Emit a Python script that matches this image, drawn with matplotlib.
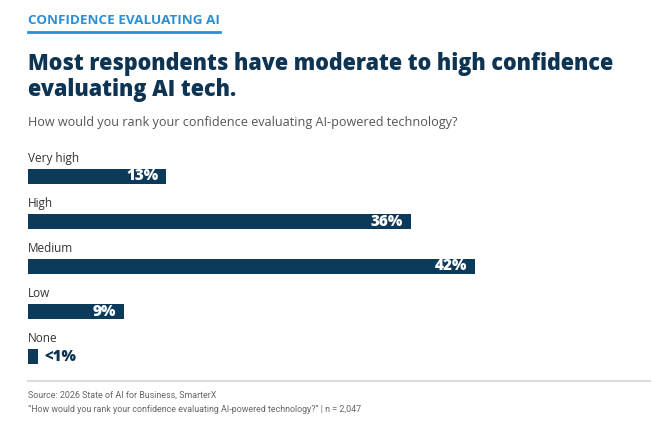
import matplotlib
matplotlib.use("Agg")
import matplotlib.pyplot as plt
from matplotlib.lines import Line2D

categories = ["Very high", "High", "Medium", "Low", "None"]
values = [13, 36, 42, 9, 0.9]
labels = ["13%", "36%", "42%", "9%", "<1%"]

kicker = "CONFIDENCE EVALUATING AI"
title = "Most respondents have moderate to high confidence\nevaluating AI tech."
question = "How would you rank your confidence evaluating AI-powered technology?"
source = "Source: 2026 State of AI for Business, SmarterX"
note = "\u201cHow would you rank your confidence evaluating AI-powered technology?\u201d | n = 2,047"

NAVY = "#0c3a5b"
W, H = 651, 444

plt.rcParams["font.family"] = ["Open Sans", "DejaVu Sans"]

fig = plt.figure(figsize=(W / 100, H / 100), dpi=100)
fig.patch.set_facecolor("white")


def fx(px):
    return px / W


def fy(py):
    return 1 - py / H


# header block
fig.text(fx(28), fy(21), kicker, color="#2a8fd6", fontsize=9.7, fontweight="bold",
         va="center", ha="left")
fig.add_artist(Line2D([fx(28), fx(220)], [fy(32), fy(32)], color="#2a8fd6", lw=2))
fig.text(fx(28), fy(77), title, color="#0d3452", fontsize=15.5, fontweight="heavy",
         va="center", ha="left", linespacing=1.15)
fig.text(fx(28), fy(122), question, color="#555555", fontsize=9.1, va="center", ha="left")

# bars: one data unit on y = 45 px
top, bottom = 140, 380
ax = fig.add_axes([fx(28), fy(bottom), fx(50 * 10.65), (bottom - top) / H])
ypos = list(range(len(categories)))
ax.barh(ypos, values, height=0.333, color=NAVY)
ax.set_xlim(0, 50)
ax.set_ylim((bottom - 176.5) / 45, -(176.5 - top) / 45)
ax.axis("off")

for y, v, cat, lab in zip(ypos, values, categories, labels):
    ax.text(0, y - 0.39, cat, color="#333333", fontsize=8.5, va="center", ha="left")
    if v >= 5:
        ax.annotate(lab, (v, y), xytext=(-6, 0), textcoords="offset points",
                    color="white", fontsize=11, fontweight="heavy",
                    va="center", ha="right")
    else:
        ax.annotate(lab, (v, y), xytext=(5, 0), textcoords="offset points",
                    color="#0d3452", fontsize=11, fontweight="heavy",
                    va="center", ha="left")

# footer
foot = ["Roboto", "Open Sans"]
fig.add_artist(Line2D([fx(28), fx(651)], [fy(381), fy(381)], color="#dddddd", lw=1.5))
fig.text(fx(28), fy(395), source, color="#666666", fontsize=6.4, family=foot,
         va="center", ha="left")
fig.text(fx(28), fy(409), note, color="#666666", fontsize=6.4, family=foot,
         va="center", ha="left")

fig.savefig("out.png", dpi=100, facecolor="white")
